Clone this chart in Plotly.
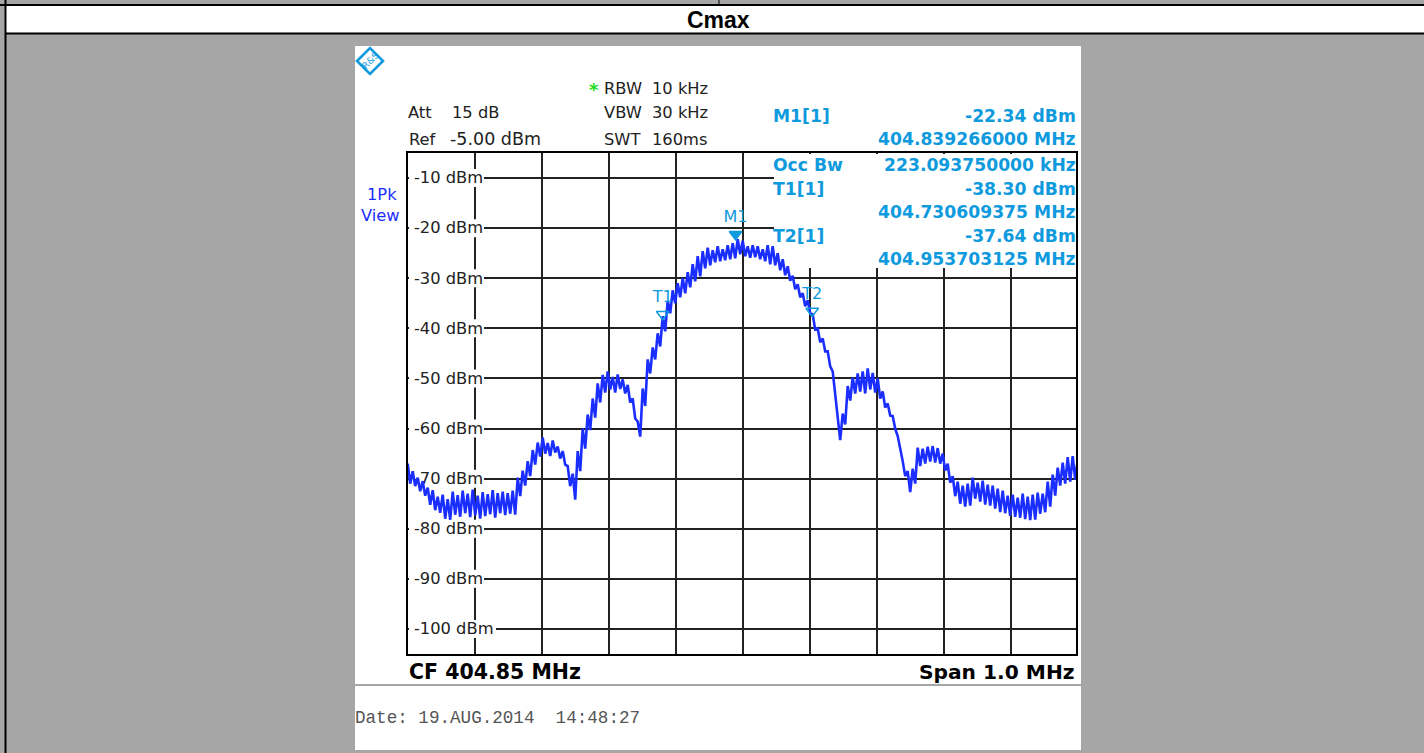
import numpy as np
import plotly.graph_objects as go

W, H = 1424, 753
F_START, F_STOP = 404.35, 405.35
TOP_DBM, BOT_DBM = -4.8, -105.2
L, R, T, B = 407.7, 1077.7, 152, 655

trace_high = [
 -67.0,-68.5,-69.8,-70.5,-71.8,-72.3,-73.6,-73.2,-74.1,-72.6,
 -73.3,-72.4,-73.0,-72.2,-73.4,-72.7,-73.1,-72.3,-72.9,-72.6,
 -72.9,-72.4,-69.8,-68.4,-66.5,-64.3,-62.8,-61.8,-62.9,-62.4,
 -63.6,-64.5,-67.5,-69.0,-64.5,-60.0,-57.2,-54.0,-51.0,-49.3,
 -48.6,-49.7,-49.2,-50.2,-51.3,-54.0,-58.6,-52.0,-46.2,-43.8,
 -41.0,-37.6,-34.5,-32.4,-31.0,-30.0,-28.8,-27.2,-25.6,-24.6,
 -23.9,-24.4,-23.6,-24.2,-23.4,-23.0,-22.2,-22.5,-23.6,-23.4,
 -23.6,-24.2,-23.4,-23.6,-25.0,-26.2,-27.6,-29.5,-31.2,-33.0,
 -34.4,-37.2,-40.0,-42.0,-44.6,-48.6,-57.0,-57.0,-51.5,-49.8,
 -49.0,-48.6,-48.0,-48.9,-50.0,-52.6,-55.0,-57.5,-61.5,-66.5,
 -68.5,-68.0,-63.8,-64.0,-63.6,-63.5,-63.9,-65.0,-67.0,-69.5,
 -70.6,-71.4,-71.0,-69.8,-70.8,-70.4,-71.2,-71.4,-72.0,-72.4,
 -73.4,-73.2,-73.8,-73.0,-73.6,-73.2,-72.8,-73.0,-70.6,-69.2,
 -67.8,-66.8,-65.7,-65.5,-66.3]
trace_low = [
 -71.0,-71.5,-72.5,-73.4,-75.2,-76.3,-76.8,-78.0,-78.2,-77.2,
 -77.6,-76.9,-77.7,-77.3,-78.0,-77.5,-77.1,-77.8,-76.9,-77.3,
 -77.0,-77.2,-73.5,-71.4,-69.5,-67.2,-65.6,-65.0,-65.5,-64.8,
 -66.0,-67.2,-71.5,-74.2,-68.5,-64.0,-60.3,-57.8,-54.8,-52.8,
 -52.2,-52.8,-52.1,-53.0,-54.8,-58.0,-61.6,-55.5,-49.0,-46.2,
 -43.6,-40.6,-37.0,-35.0,-33.8,-33.0,-31.8,-30.6,-29.6,-28.0,
 -27.4,-26.8,-26.6,-26.4,-26.2,-26.0,-25.2,-25.6,-25.9,-25.8,
 -26.2,-26.6,-27.2,-27.4,-28.4,-29.4,-30.5,-32.2,-33.8,-35.6,
 -37.0,-40.2,-42.8,-44.6,-47.6,-53.0,-62.3,-59.2,-54.4,-53.0,
 -52.6,-53.0,-52.2,-52.8,-54.0,-55.8,-57.4,-60.0,-63.8,-69.5,
 -72.7,-71.0,-67.5,-67.0,-66.6,-66.8,-67.0,-68.4,-70.8,-73.5,
 -75.0,-75.6,-75.4,-74.0,-74.6,-75.2,-75.4,-76.0,-76.7,-76.9,
 -77.4,-77.6,-77.8,-78.1,-78.3,-78.2,-77.0,-76.7,-75.6,-73.4,
 -71.4,-71.0,-70.6,-70.2,-70.0]

db_ticks = [-10,-20,-30,-40,-50,-60,-70,-80,-90,-100]
db_labels = ["-10 dBm","-20 dBm","-30 dBm","-40 dBm","-50 dBm","-60 dBm","-70 dBm","-80 dBm","-90 dBm","-100 dBm"]
freq_ticks = [404.35,404.45,404.55,404.65,404.75,404.85,404.95,405.05,405.15,405.25,405.35]

marker_names = ["M1","T1","T2"]
marker_freq = [404.839266, 404.730609375, 404.953703125]
marker_level = [-22.34, -38.30, -37.64]
marker_syms = ["triangle-down","triangle-down-open","triangle-down-open"]

BLUE = "#1a2eff"
CY = "#0f9ade"
BG = "#a6a6a6"

def fx(px): return F_START + (px - L) / (R - L) * (F_STOP - F_START)
def fy(py): return TOP_DBM + (py - T) / (B - T) * (BOT_DBM - TOP_DBM)
def nx(px): return px / W
def ny(py): return 1 - py / H

fig = go.Figure()

n = len(trace_high)
step = 5 / (R - L) * (F_STOP - F_START)
xs, ys = [], []
for i in range(n):
    xs += [F_START + i * step, F_START + (i + 0.5) * step]
    ys += [trace_high[i], trace_low[i]]

fig.add_trace(go.Scatter(x=[fx(414)] * len(db_ticks), y=[d - 0.25 for d in db_ticks], text=db_labels, mode="text",
                         textposition="middle right", hoverinfo="skip",
                         textfont=dict(family="DejaVu Sans", size=16.3, color="#222")))
fig.add_trace(go.Scatter(x=xs, y=ys, mode="lines", line=dict(color=BLUE, width=2.6, shape="linear"), hoverinfo="skip"))
fig.add_trace(go.Scatter(x=marker_freq, y=[v + 1.1 for v in marker_level], mode="markers+text",
                         text=marker_names, textposition="top center",
                         textfont=dict(family="DejaVu Sans", size=16, color=CY),
                         marker=dict(symbol=marker_syms, size=11, color=CY, line=dict(color=CY, width=1.5)),
                         hoverinfo="skip"))

shapes = []
def rect(x0, y0, x1, y1, fill, layer="below", line=None):
    return dict(type="rect", xref="paper", yref="paper", x0=nx(x0), x1=nx(x1), y0=ny(y0), y1=ny(y1),
                fillcolor=fill, line=line or dict(width=0), layer=layer)
shapes.append(rect(6, 6, 1424, 33, "white"))
shapes.append(rect(355, 46, 1081, 684, "white"))
shapes.append(rect(355, 686, 1081, 750, "white"))
for (a, b, c, d) in [(0, 5, 1424, 5), (5, 33.5, 1424, 33.5), (5.5, 0, 5.5, 753), (719, 0, 719, 5)]:
    shapes.append(dict(type="line", xref="paper", yref="paper", x0=nx(a), x1=nx(c), y0=ny(b), y1=ny(d),
                       line=dict(color="black", width=2 if a != 719 else 1), layer="above"))

def mask(x0, y0, x1, y1):
    return dict(type="rect", xref="x", yref="y", x0=fx(x0), x1=fx(x1), y0=fy(y0), y1=fy(y1),
                fillcolor="white", line=dict(width=0), layer="between")
shapes.append(mask(774, 154, 1076, 268))
for d in db_ticks:
    py = T + (d - TOP_DBM) / (BOT_DBM - TOP_DBM) * (B - T)
    shapes.append(mask(409, py - 9, 496 if d == -100 else 484, py + 9))

shapes.append(dict(type="rect", xref="paper", yref="paper", x0=nx(407), x1=nx(1077), y0=ny(B), y1=ny(T),
                   line=dict(color="black", width=2), layer="above"))

cx, cy, r = 370, 61, 13
shapes.append(dict(type="path", xref="paper", yref="paper",
                   path=f"M {nx(cx-r)} {ny(cy)} L {nx(cx)} {ny(cy-r)} L {nx(cx+r)} {ny(cy)} L {nx(cx)} {ny(cy+r)} Z",
                   line=dict(color=CY, width=2.6), fillcolor="white", layer="above"))

anns = []
def txt(px, py, s, color="#222", size=16.3, bold=False, anchor="left", family="DejaVu Sans", angle=0):
    if bold:
        s = f"<b>{s}</b>"
    off = {"left": -2, "right": 1.5, "center": 0}[anchor]
    anns.append(dict(xref="paper", yref="paper", x=nx(px + off), y=ny(py), text=s, showarrow=False,
                     xanchor=anchor, yanchor="middle", align=anchor, textangle=angle,
                     font=dict(family=family, size=size, color=color)))

txt(718.5, 20, "Cmax", color="black", size=23, bold=True, anchor="center", family="Liberation Sans")
txt(370, 61, "R&S", color=CY, size=9, anchor="center", angle=-45)
txt(594, 89, "*", color="#22dd22", size=18, bold=True, anchor="center")
txt(604, 88, "RBW"); txt(652, 88, "10 kHz")
txt(604, 113, "VBW"); txt(652, 113, "30 kHz")
txt(604, 139, "SWT"); txt(652, 139, "160ms")
txt(408, 113, "Att"); txt(452, 113, "15 dB")
txt(409, 139, "Ref"); txt(450, 139, "-5.00 dBm", size=17.5)
txt(397, 194, "1Pk", color=BLUE, anchor="right")
txt(401, 216, "View", color=BLUE, anchor="right")

rows = [
    (116, "M1[1]", "-22.34 dBm"),
    (139, "", "404.839266000 MHz"),
    (165, "Occ Bw", "223.093750000 kHz"),
    (189, "T1[1]", "-38.30 dBm"),
    (212, "", "404.730609375 MHz"),
    (236, "T2[1]", "-37.64 dBm"),
    (259, "", "404.953703125 MHz"),
]
for y, a, b in rows:
    if a:
        txt(773, y, a, color=CY, size=17.2, bold=True)
    txt(1076, y, b, color=CY, size=17.2, bold=True, anchor="right")

txt(409, 672, "CF 404.85 MHz", color="black", size=20.5, bold=True)
txt(1075, 672, "Span 1.0 MHz", color="black", size=20.2, bold=True, anchor="right")
txt(355, 718, "Date: 19.AUG.2014  14:48:27", color="#555", size=17.6, family="Liberation Mono")

fig.update_layout(
    width=W, height=H, autosize=False, margin=dict(l=0, r=0, t=0, b=0),
    paper_bgcolor=BG, plot_bgcolor="white", showlegend=False,
    shapes=shapes, annotations=anns,
    xaxis=dict(domain=[nx(L), nx(R)], range=[F_START, F_STOP], tickvals=freq_ticks,
               showticklabels=False, showgrid=True, gridcolor="#222", gridwidth=1.5, zeroline=False,
               ticks="inside", ticklen=3, tickcolor="#222", showline=False),
    yaxis=dict(domain=[ny(B), ny(T)], range=[BOT_DBM, TOP_DBM], tickvals=db_ticks,
               showticklabels=False, showgrid=True, gridcolor="#222", gridwidth=1.5, zeroline=False,
               showline=False),
)

fig.write_html("out.html", post_script="document.body.style.margin='0';document.body.style.overflow='hidden';",
               config=dict(displayModeBar=False))
